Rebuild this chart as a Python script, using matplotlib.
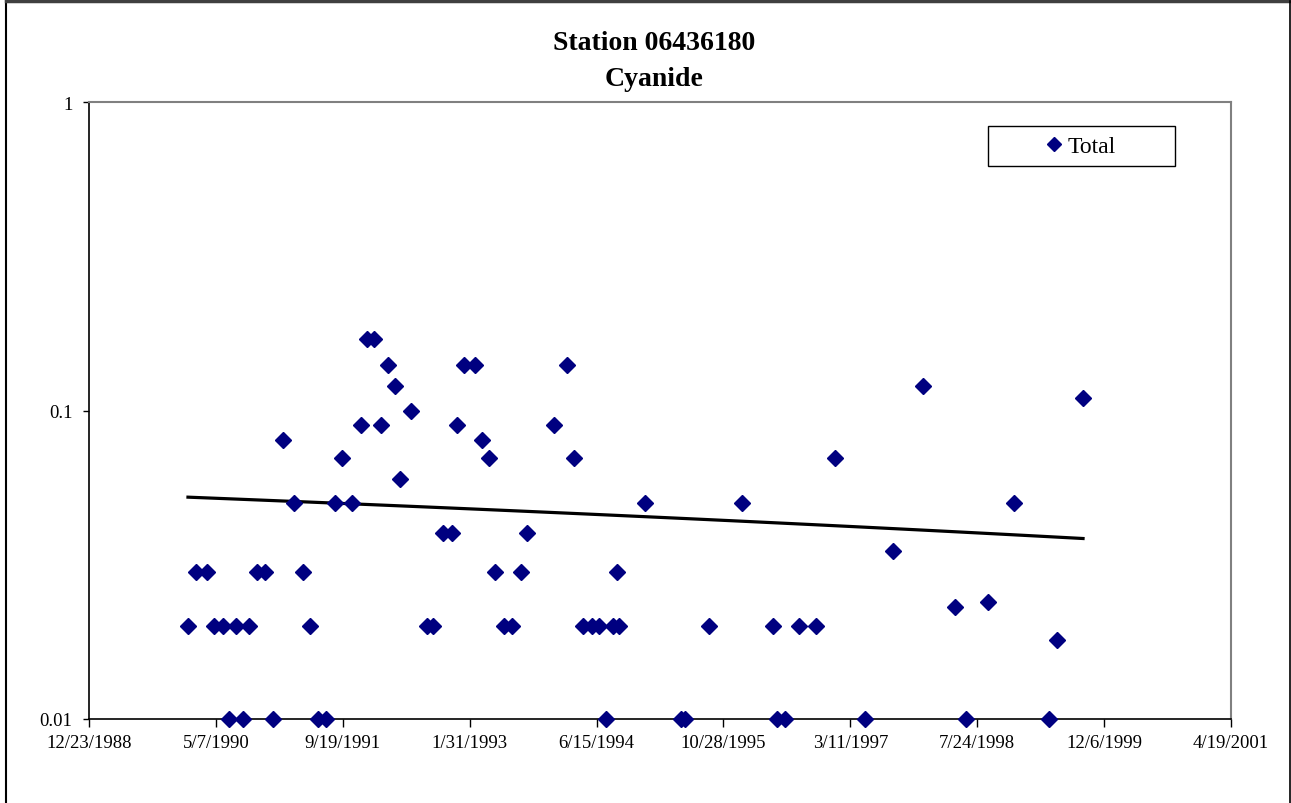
import numpy as np
import pandas as pd
import matplotlib
matplotlib.use("Agg")
import matplotlib.pyplot as plt
from matplotlib.ticker import FixedLocator, NullLocator
from matplotlib.patches import Rectangle
from matplotlib.lines import Line2D

plt.rcParams['font.family'] = ['Liberation Serif', 'DejaVu Serif']

# sample dates as Excel serial numbers, cyanide totals (mg/L)
sample_serial = [
    32890, 32922, 32965, 32993, 33028, 33052, 33079, 33107, 33130, 33162,
    33194, 33225, 33264, 33308, 33343, 33371, 33402, 33434, 33469, 33497,
    33536, 33572, 33595, 33623, 33651, 33678, 33706, 33725, 33769, 33832,
    33856, 33895, 33930, 33950, 33978, 34021, 34049, 34076, 34100, 34135,
    34167, 34202, 34226, 34332, 34384, 34411, 34447, 34482, 34510, 34537,
    34565, 34581, 34588, 34691, 34833, 34849, 34943, 35073, 35195, 35211,
    35243, 35298, 35365, 35440, 35558, 35668, 35786, 35913, 35956, 36043,
    36145, 36283, 36314, 36417,
]
total = [
    0.02, 0.03, 0.03, 0.02, 0.02, 0.01, 0.02, 0.01, 0.02, 0.03,
    0.03, 0.01, 0.08, 0.05, 0.03, 0.02, 0.01, 0.01, 0.05, 0.07,
    0.05, 0.09, 0.17, 0.17, 0.09, 0.14, 0.12, 0.06, 0.1, 0.02,
    0.02, 0.04, 0.04, 0.09, 0.14, 0.14, 0.08, 0.07, 0.03, 0.02,
    0.02, 0.03, 0.04, 0.09, 0.14, 0.07, 0.02, 0.02, 0.02, 0.01,
    0.02, 0.03, 0.02, 0.05, 0.01, 0.01, 0.02, 0.05, 0.02, 0.01,
    0.01, 0.02, 0.02, 0.07, 0.01, 0.035, 0.12, 0.023, 0.01, 0.024,
    0.05, 0.01, 0.018, 0.11,
]
axis_min, axis_max, axis_step = 32500, 37000, 500
y_ticks = [0.01, 0.1, 1]
y_labels = ["0.01", "0.1", "1"]


def to_date(serial):
    return pd.to_datetime(np.asarray(serial), unit='D', origin='1899-12-30')


dates = to_date(sample_serial)
vals = np.array(total)

# linear trend line over the sampled period
xs = np.array(sample_serial, dtype=float)
slope, icpt = np.polyfit(xs, vals, 1)
trend_x = np.linspace(xs.min(), xs.max(), 50)
trend_y = icpt + slope * trend_x

W, H = 1291, 804
fig = plt.figure(figsize=(W / 100, H / 100), dpi=100)
ax = fig.add_axes([89 / W, 1 - 720 / H, 1142 / W, 617 / H])

ax.plot(dates, vals, linestyle='none', marker='D', markersize=7.8,
        color='#000080', label='Total', zorder=3, clip_on=False)
ax.plot(to_date(trend_x), trend_y, color='black', lw=2.3, zorder=2)

ax.set_yscale('log')
ax.set_ylim(0.01, 1)
ax.yaxis.set_major_locator(FixedLocator(y_ticks))
ax.yaxis.set_minor_locator(NullLocator())
ax.set_yticklabels(y_labels)

ax.set_xlim(to_date([axis_min])[0], to_date([axis_max])[0])
tick_dates = to_date(np.arange(axis_min, axis_max + 1, axis_step))
ax.set_xticks(tick_dates)
ax.set_xticklabels([f"{d.month}/{d.day}/{d.year}" for d in tick_dates])

ax.tick_params(axis='both', direction='out', width=1,
               labelsize=13.5, colors='black')
ax.tick_params(axis='x', length=6, pad=5)
ax.tick_params(axis='y', length=4, pad=8)
for side in ['top', 'right']:
    ax.spines[side].set_color('#808080')
    ax.spines[side].set_linewidth(1.5)
for side in ['left', 'bottom']:
    ax.spines[side].set_color('black')
    ax.spines[side].set_linewidth(1.2)

fig.text(0.507, 1 - 43 / H, "Station 06436180", ha='center', va='center',
         fontsize=20, fontweight='bold')
fig.text(0.507, 1 - 79 / H, "Cyanide", ha='center', va='center',
         fontsize=20, fontweight='bold')

# legend box with the entry centred inside it
box_l, box_r, box_t, box_b = 988, 1175, 127, 167
ax.add_patch(Rectangle((box_l / W, 1 - box_b / H),
                       (box_r - box_l) / W, (box_b - box_t) / H,
                       transform=fig.transFigure, facecolor='white',
                       edgecolor='black', lw=1, zorder=5, clip_on=False))
leg = ax.legend(loc='center', bbox_to_anchor=((box_l + box_r) / 2 / W,
                                              1 - (box_t + box_b) / 2 / H),
                bbox_transform=fig.transFigure, fontsize=17, frameon=False,
                handlelength=0.6, handletextpad=0.3, borderpad=0,
                markerscale=0.85)
leg.set_zorder(6)

# chart border: left, top and right edges
fig.add_artist(Line2D([6 / W, 6 / W], [0, 1 - 2 / H], color='black', lw=1.5))
fig.add_artist(Line2D([6 / W, 1], [1 - 2 / H, 1 - 2 / H], color='#404040', lw=2.5))
fig.add_artist(Line2D([1 - 1.5 / W, 1 - 1.5 / W], [0, 1 - 2 / H], color='black', lw=1.2))

fig.savefig("out.png", dpi=100)
